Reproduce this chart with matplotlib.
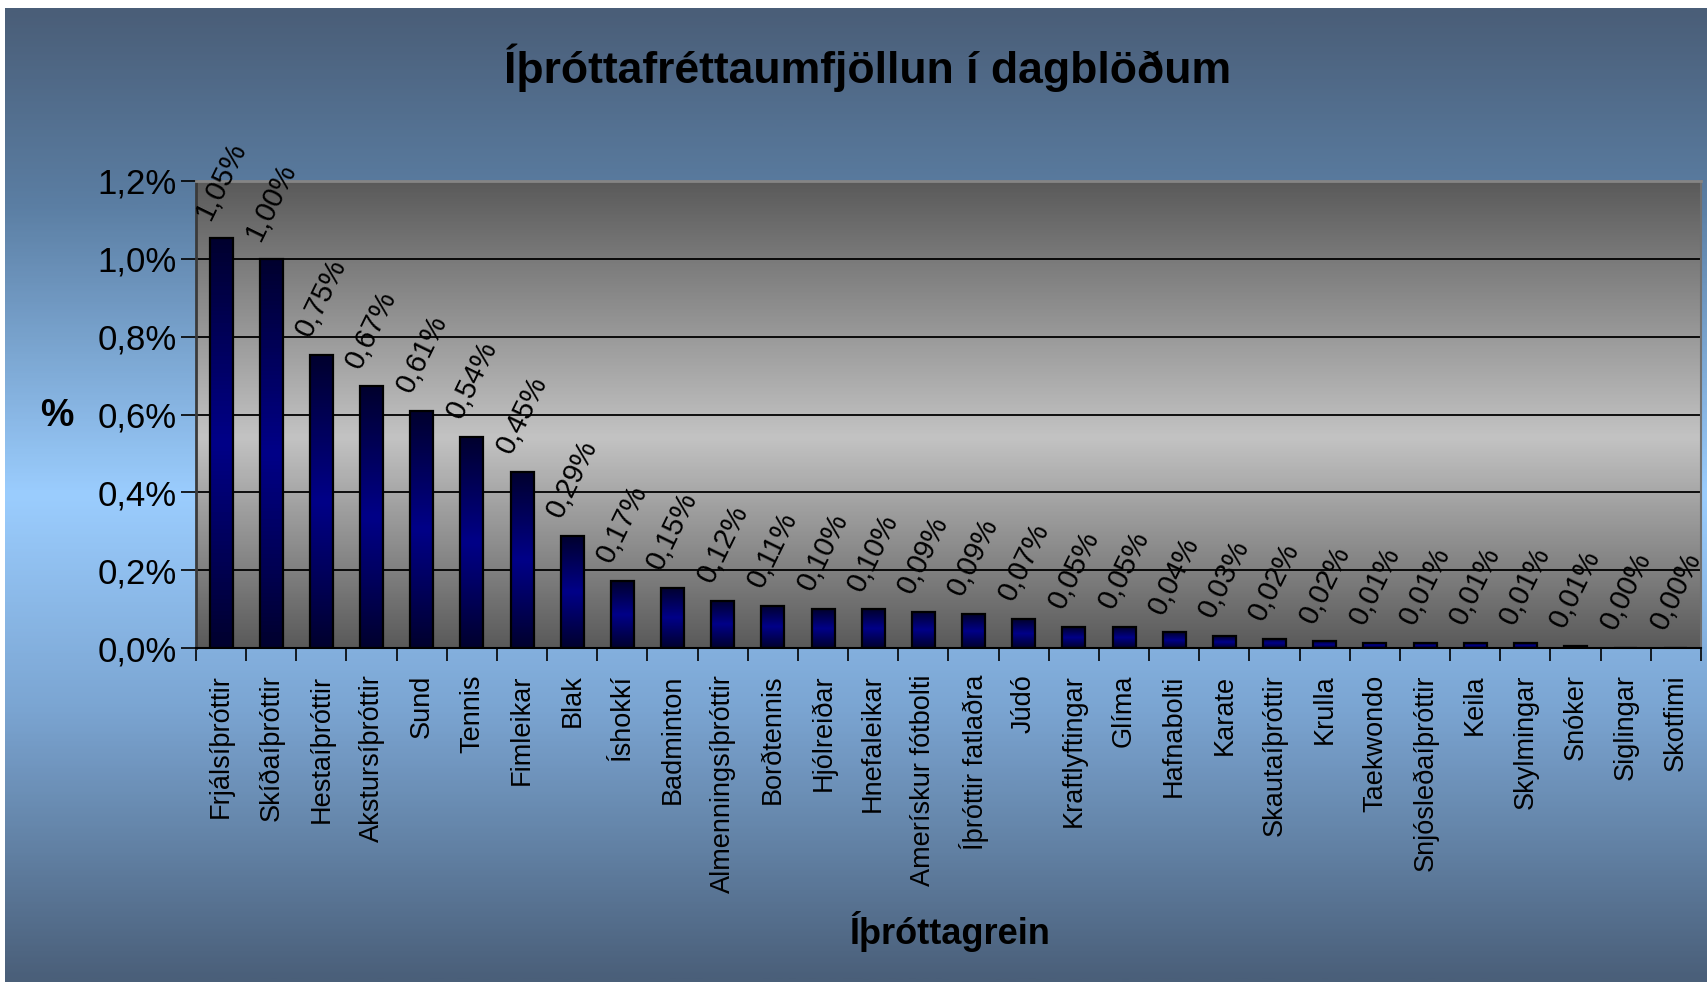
import numpy as np
import matplotlib.pyplot as plt
from matplotlib.colors import LinearSegmentedColormap

plt.rcParams['font.family'] = ['Liberation Sans', 'DejaVu Sans']

# data (share in %)
sports = ['Frjálsíþróttir', 'Skíðaíþróttir', 'Hestaíþróttir', 'Akstursíþróttir', 'Sund',
          'Tennis', 'Fimleikar', 'Blak', 'Íshokkí', 'Badminton', 'Almenningsíþróttir',
          'Borðtennis', 'Hjólreiðar', 'Hnefaleikar', 'Amerískur fótbolti', 'Íþróttir fatlaðra',
          'Júdó', 'Kraftlyftingar', 'Glíma', 'Hafnabolti', 'Karate', 'Skautaíþróttir',
          'Krulla', 'Taekwondo', 'Snjósleðaíþróttir', 'Keila', 'Skylmingar', 'Snóker',
          'Siglingar', 'Skotfimi']
shares = [1.054, 1.00, 0.753, 0.672, 0.610, 0.543, 0.453, 0.288, 0.172, 0.155, 0.122,
          0.108, 0.100, 0.099, 0.093, 0.087, 0.074, 0.053, 0.053, 0.040, 0.030, 0.024,
          0.017, 0.014, 0.012, 0.012, 0.012, 0.006, 0.0, 0.0]
y_ticks = [0.0, 0.2, 0.4, 0.6, 0.8, 1.0, 1.2]

W, H = 1708, 982
fig = plt.figure(figsize=(W / 100, H / 100), dpi=100)
fig.patch.set_facecolor('white')

# blue chart background, dark - light - dark from top to bottom
bg_cmap = LinearSegmentedColormap.from_list('bg', [(0, '#4a5e78'), (0.2, '#5b7ea3'),
                                                  (0.5, '#9bcdfe'), (0.72, '#7ba5d2'),
                                                  (1, '#4a5f79')])
bg = fig.add_axes([5 / W, 0, 1 - 5 / W, 1 - 8 / H])
bg.axis('off')
bg.imshow(np.linspace(0, 1, 400).reshape(-1, 1), cmap=bg_cmap, aspect='auto',
          extent=[0, 1, 0, 1], origin='upper')

ax = fig.add_axes([196 / W, 1 - 648 / H, (1701 - 196) / W, (648 - 181) / H])
ax.set_facecolor('none')

# grey plot-area gradient
wall_cmap = LinearSegmentedColormap.from_list('wall', [(0, '#5a5a5a'), (0.55, '#c3c3c3'),
                                                      (1, '#5a5a5a')])
ax.imshow(np.linspace(0, 1, 400).reshape(-1, 1), cmap=wall_cmap, aspect='auto',
          extent=[0, 1, 0, 1], origin='upper', transform=ax.transAxes, zorder=-2)

bar_cmap = LinearSegmentedColormap.from_list('bar', [(0, '#00002e'), (0.5, '#000088'),
                                                    (1, '#00002e')])
x = np.arange(len(sports))
bw = 0.46
bars = ax.bar(x, shares, width=bw, color='none', edgecolor='black', linewidth=1.6, zorder=3)
for xi, h, b in zip(x, shares, bars):
    if h > 0:
        im = ax.imshow(np.linspace(0, 1, 100).reshape(-1, 1), cmap=bar_cmap, aspect='auto',
                       extent=[xi - bw / 2, xi + bw / 2, 0, h], origin='upper', zorder=2)
        im.set_clip_path(b)
    ax.annotate(f'{h:.2f}%'.replace('.', ','), (xi, h), xytext=(0, 14),
                textcoords='offset pixels', rotation=64, ha='center', va='bottom',
                fontsize=21, color='black', zorder=4)

ax.set_xlim(-0.5, len(sports) - 0.5)
ax.set_ylim(0, 1.2)

ax.yaxis.grid(True, color='black', linewidth=1.3)
ax.set_axisbelow(True)

ax.set_yticks(y_ticks)
ax.set_yticklabels([f'{v:.1f}%'.replace('.', ',') for v in y_ticks], fontsize=25)
ax.tick_params(axis='y', direction='out', length=11, width=1.2, pad=3)

ax.set_xticks(x)
ax.set_xticklabels(sports, rotation=90, fontsize=19.5, va='top', ha='center')
ax.tick_params(axis='x', which='major', length=0, pad=19)
ax.set_xticks(np.arange(-0.5, len(sports)), minor=True)
ax.tick_params(axis='x', which='minor', direction='out', length=9, width=1.2)

ax.spines['left'].set_color('#3a3a3a')
ax.spines['left'].set_linewidth(2)
ax.spines['bottom'].set_color('black')
ax.spines['bottom'].set_linewidth(1.5)
ax.spines['top'].set_color('#858585')
ax.spines['top'].set_linewidth(2)
ax.spines['right'].set_color('#6f6f6f')
ax.spines['right'].set_linewidth(1.5)

fig.text(868 / W, 1 - 68 / H, 'Íþróttafréttaumfjöllun í dagblöðum', ha='center', va='center',
         fontsize=32, fontweight='bold')
fig.text(57 / W, 1 - 416 / H, '%', ha='center', va='center', fontsize=27, fontweight='bold')
fig.text(950 / W, 1 - 931 / H, 'Íþróttagrein', ha='center', va='center', fontsize=26,
         fontweight='bold')

fig.savefig('out.png', dpi=100)
